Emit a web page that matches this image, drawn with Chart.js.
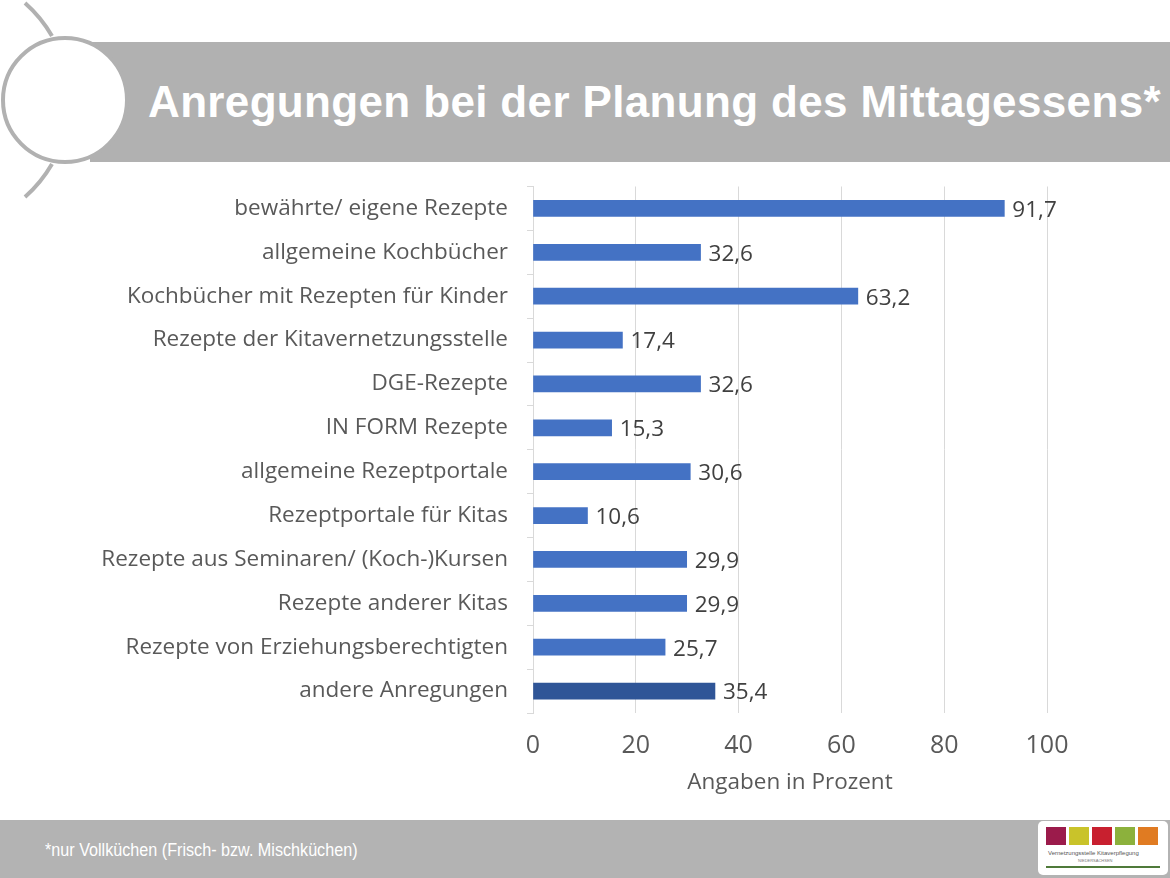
<!DOCTYPE html>
<html><head><meta charset="utf-8">
<script src="https://cdn.jsdelivr.net/npm/chart.js@4"></script>
<style>
html,body{margin:0;padding:0;background:#fff;width:1170px;height:878px;overflow:hidden;font-family:"Open Sans",sans-serif;}
#banner{position:absolute;left:90px;top:42px;width:1080px;height:120px;background:#b1b1b1;}
#title{position:absolute;left:148px;top:42px;height:120px;line-height:120px;color:#fff;font-family:"Liberation Sans",Arial,sans-serif;font-weight:bold;font-size:44px;letter-spacing:0.35px;white-space:nowrap;}
#deco{position:absolute;left:0;top:0;}
#footer{position:absolute;left:0;top:820px;width:1170px;height:58px;background:#b3b3b3;}
#note{position:absolute;left:45px;top:842px;color:#fff;font-family:"Liberation Sans",Arial,sans-serif;font-size:16px;transform-origin:left center;transform:scale(1.01,1.1);}
#logo{position:absolute;left:1038px;top:821px;width:130px;height:54px;background:#fff;border-radius:5px;}
#wrap{position:absolute;left:0;top:154px;width:1170px;height:642px;}
</style></head>
<body>
<div id="banner"></div>
<svg id="deco" width="200" height="210">
<path d="M25 3 A133 133 0 0 1 52 36" fill="none" stroke="#b1b1b1" stroke-width="4"/>
<path d="M52 164 A133 133 0 0 1 25 197" fill="none" stroke="#b1b1b1" stroke-width="4"/>
<circle cx="65" cy="100" r="62" fill="#fff" stroke="#b1b1b1" stroke-width="4"/>
</svg>
<div id="title">Anregungen bei der Planung des Mittagessens*</div>
<div id="wrap"><canvas id="c"></canvas></div>
<div id="footer"></div>
<div id="note">*nur Vollküchen (Frisch- bzw. Mischküchen)</div>
<div id="logo">
<svg width="130" height="54">
<rect x="8" y="6" width="20" height="18" fill="#9b1b4b"/>
<rect x="31" y="6" width="20" height="18" fill="#c9c32a"/>
<rect x="54" y="6" width="20" height="18" fill="#c8202f"/>
<rect x="77" y="6" width="20" height="18" fill="#8cb13c"/>
<rect x="100" y="6" width="20" height="18" fill="#e07b22"/>
<text x="10" y="34" font-size="6" fill="#555" font-family="Liberation Sans">Vernetzungsstelle Kitaverpflegung</text>
<text x="40" y="41" font-size="4" fill="#777" font-family="Liberation Sans">NIEDERSACHSEN</text>
<rect x="8" y="45" width="114" height="2" fill="#4f7a3a"/>
</svg>
</div>
<script>
const categories = ["bewährte/ eigene Rezepte","allgemeine Kochbücher","Kochbücher mit Rezepten für Kinder","Rezepte der Kitavernetzungsstelle","DGE-Rezepte","IN FORM Rezepte","allgemeine Rezeptportale","Rezeptportale für Kitas","Rezepte aus Seminaren/ (Koch-)Kursen","Rezepte anderer Kitas","Rezepte von Erziehungsberechtigten","andere Anregungen"];
const values = [91.7,32.6,63.2,17.4,32.6,15.3,30.6,10.6,29.9,29.9,25.7,35.4];
const valueLabels = ["91,7","32,6","63,2","17,4","32,6","15,3","30,6","10,6","29,9","29,9","25,7","35,4"];
const xTicks = [0,20,40,60,80,100];
const axisTitle = "Angaben in Prozent";
const barColors = values.map((v,i)=> i===values.length-1 ? "#2f5597" : "#4472c4");

const labelPlugin = {
  id:'vals',
  afterDatasetsDraw(chart){
    const ctx = chart.ctx;
    const meta = chart.getDatasetMeta(0);
    ctx.save();
    ctx.font = '22.5px "Open Sans"';
    ctx.fillStyle = '#404040';
    ctx.textBaseline = 'middle';
    ctx.textAlign = 'left';
    meta.data.forEach((b,i)=>{ ctx.fillText(valueLabels[i], b.x+8, b.y+2); });
    ctx.restore();
  }
};

new Chart(document.getElementById('c'),{
  type:'bar',
  data:{labels:categories,datasets:[{data:values,backgroundColor:barColors,barThickness:16}]},
  options:{
    indexAxis:'y',responsive:true,maintainAspectRatio:false,animation:false,
    layout:{padding:{top:0,right:123,left:0,bottom:0}},
    plugins:{legend:{display:false},tooltip:{enabled:false}},
    scales:{
      x:{min:0,max:100,afterBuildTicks(s){s.ticks=xTicks.map(v=>({value:v}));},
        grid:{color:'#d9d9d9',drawTicks:false},border:{display:false},
        ticks:{color:'#595959',font:{family:'"Open Sans"',size:25},padding:18},
        title:{display:true,text:axisTitle,color:'#595959',font:{family:'"Open Sans"',size:22.5},padding:{top:0,bottom:0}},
        afterFit(s){s.height=83;}
      },
      y:{grid:{drawOnChartArea:false,drawTicks:true,tickLength:6,color:'#d9d9d9',offset:true},
        border:{display:true,color:'#d9d9d9'},
        ticks:{color:'#595959',font:{family:'"Open Sans"',size:22.5},padding:19},
        afterFit(s){s.width=533;}
      }
    }
  },
  plugins:[labelPlugin]
});
</script>
</body></html>
